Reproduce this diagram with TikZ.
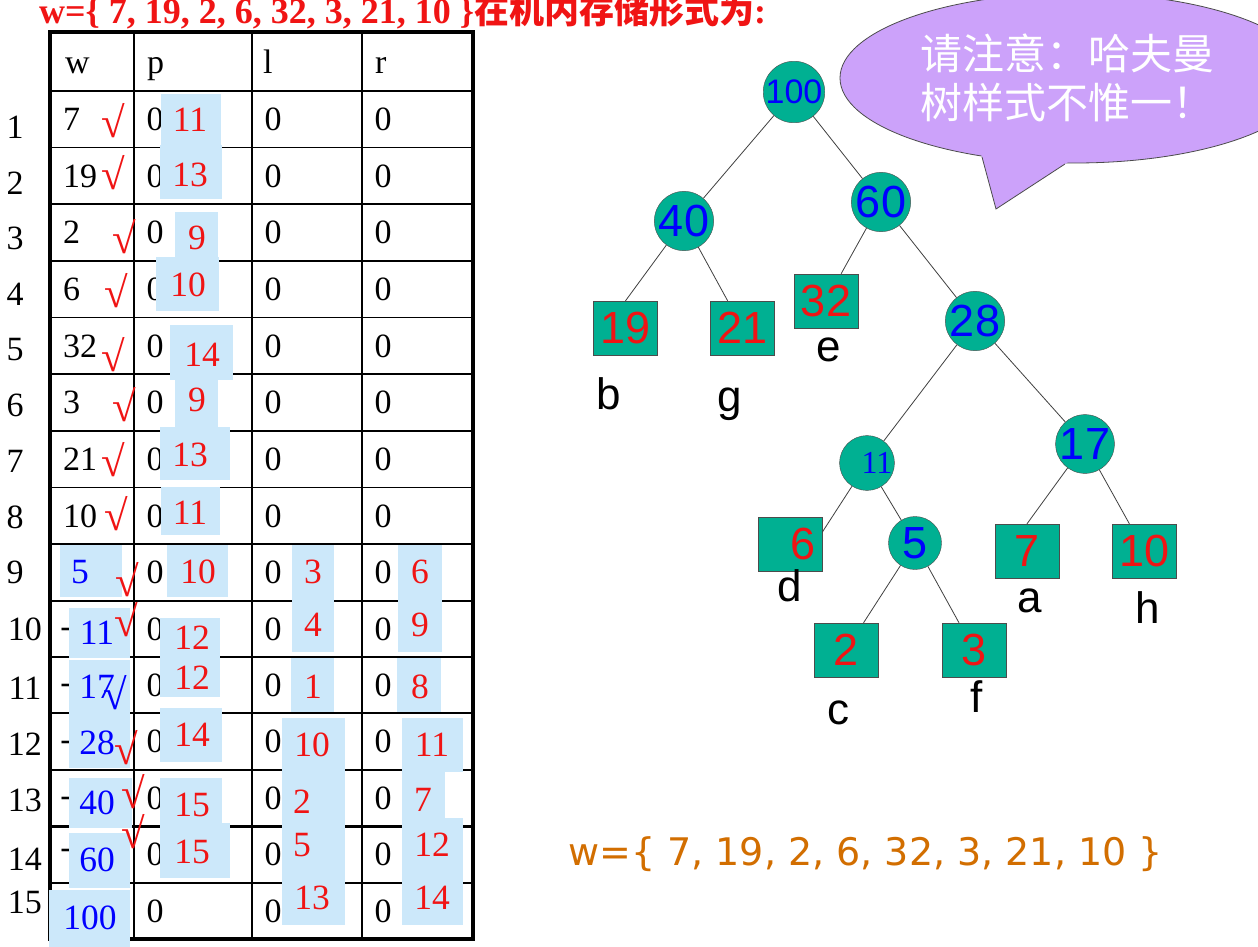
\documentclass[tikz,border=0pt]{standalone}
\usepackage{fontspec}
\setmainfont{Liberation Serif}
\newfontfamily\sans{Liberation Sans}
\newfontfamily\vsans{DejaVu Sans}
\newfontfamily\cjk{Noto Sans CJK SC}
\definecolor{numred}{RGB}{240,20,20}
\definecolor{numblue}{RGB}{0,0,255}
\definecolor{hlblue}{RGB}{204,232,250}
\definecolor{nodeteal}{RGB}{0,176,146}
\definecolor{lilac}{RGB}{204,162,250}
\definecolor{setorange}{RGB}{210,110,0}
\newcommand{\tabsize}{\fontsize{34}{36}\selectfont}
\newcommand{\marksize}{\fontsize{35.5}{38}\selectfont}

\begin{document}
\begin{tikzpicture}[x=1pt,y=-1pt,
  tabline/.style={line width=1.7pt},
  tabframe/.style={line width=3.4pt},
  cell/.style={font=\tabsize,inner sep=0pt},
  hl/.style={fill=hlblue},
  redn/.style={inner sep=0pt,font=\marksize,text=numred},
  bluen/.style={inner sep=0pt,font=\marksize,text=numblue},
  tick/.style={inner sep=0pt,font=\fontsize{43}{46}\selectfont,text=numred},
  inode/.style={circle,draw=black!70,fill=nodeteal,minimum size=53pt,inner sep=0pt,text=numblue,font=\sans\fontsize{45}{48}\selectfont},
  leaf/.style={rectangle,draw=black!70,fill=nodeteal,minimum width=64pt,minimum height=54pt,inner sep=0pt,text=numred,font=\sans\fontsize{45}{48}\selectfont},
  letter/.style={inner sep=0pt,font=\sans\fontsize{44}{48}\selectfont},
  edge/.style={line width=0.8pt,draw=black!75}]

\fill[white] (0,0) rectangle (1258,947);
\useasboundingbox (0,0) rectangle (1258,947);

\node[anchor=base west,inner sep=0pt,text=numred,font=\bfseries\fontsize{36}{40}\selectfont] (title) at (39,23.5) {w=\{ 7, 19, 2, 6, 32, 3, 21, 10 \}{\cjk\bfseries\fontsize{35}{40}\selectfont 在机内存储形式为}:};

% table
\foreach \y in {91,147.5,204,261,317.5,374,431,487.5,544,601,657,713,770,883}
  \draw[tabline] (50,\y) -- (473,\y);
\draw[line width=3pt] (50,826) -- (473,826);
\foreach \x in {134,252,362}
  \draw[tabline] (\x,32) -- (\x,939);
\draw[tabframe] (50,32) rectangle (473,939);

\node[cell,anchor=base west] (hw) at (65,74) {w};
\node[cell,anchor=base west] (hp) at (147,74) {p};
\node[cell,anchor=base west] (hdl) at (263,74) {l};
\node[cell,anchor=base west] (hr) at (375,74) {r};

\foreach \n/\x/\y in {1/15/127,2/15/183,3/15/238,4/15/294,5/15/350,6/15/405,7/15/461,8/15/517,9/15/572,10/25/629,11/25/688,12/25/744,13/25/800,14/25/859,15/25/902}
  \node[cell] (row\n) at (\x,\y) {\n};

\foreach \y [count=\i] in {119,176,232.5,289,346,402.5,459,516,572.5,629,685,741.5,798,854.5,911} {
  \node[cell] (p\i) at (155,\y) {0};
  \node[cell] (l\i) at (273,\y) {0};
  \node[cell] (r\i) at (383,\y) {0};
}
\foreach \v/\y [count=\i] in {7/119,19/176,2/232.5,6/289,32/346,3/402.5,21/459,10/516}
  \node[cell,anchor=west] (w\i) at (63,\y) {\v};
\foreach \y [count=\i from 10] in {633,689,746,802,854}
  \node[cell] (dash\i) at (66,\y) {-};

% marked cells
\fill[hl] (161,94) rectangle (221,147);
\fill[hl] (160,145) rectangle (222,199);
\fill[hl] (175,212) rectangle (218,257);
\fill[hl] (156,257) rectangle (219,311);
\fill[hl] (170,325) rectangle (233,380);
\fill[hl] (175,380) rectangle (218,427);
\fill[hl] (160,427) rectangle (230,480);
\fill[hl] (161,487) rectangle (220,535);
\fill[hl] (167,545) rectangle (228,597);
\fill[hl] (160,618) rectangle (220,697);
\fill[hl] (160,708) rectangle (222,762);
\fill[hl] (160,778) rectangle (222,823);
\fill[hl] (160,823) rectangle (230,878);
\fill[hl] (60,545) rectangle (122,597);
\fill[hl] (69,608) rectangle (130,658);
\fill[hl] (69,660) rectangle (130,768);
\fill[hl] (69,778) rectangle (132,828);
\fill[hl] (69,833) rectangle (130,888);
\fill[hl] (49,890) rectangle (130,947);
\fill[hl] (292,545) rectangle (334,652);
\fill[hl] (291,658) rectangle (334,712);
\fill[hl] (282,718) rectangle (345,925);
\fill[hl] (398,545) rectangle (442,652);
\fill[hl] (397,658) rectangle (441,712);
\fill[hl] (402,718) rectangle (463,772);
\fill[hl] (402,718) rectangle (445,925);
\fill[hl] (402,818) rectangle (463,925);

\foreach \v/\x/\y [count=\i] in {11/190/120,13/190/175,9/197/238,10/188/285,14/202/355,9/197/400,13/190/455,11/190/513,10/198/572,12/192/638,12/192/678,14/192/735,15/192/805,15/192/852}
  \node[redn] (pv\i) at (\x,\y) {\v};
\foreach \v/\x/\y [count=\i] in {3/313/572,4/313/625,1/313/687,10/312/745,2/302/802,5/302/845,13/312/898}
  \node[redn] (lv\i) at (\x,\y) {\v};
\foreach \v/\x/\y [count=\i] in {6/420/572,9/420/625,8/420/687,11/432/745,7/423/800,12/432/845,14/432/898}
  \node[redn] (rv\i) at (\x,\y) {\v};
\foreach \v/\x/\y [count=\i from 9] in {5/80/572,11/97/633,17/97/687,28/97/743,40/97/803,60/97/860,100/90/918}
  \node[bluen] (wv\i) at (\x,\y) {\v};

\foreach \x/\y [count=\i] in {113/121,113/173,124/237,116/291,113/355,124/405,113/460,116/514,127/580,126/620}
  \node[tick] (ck\i) at (\x,\y) {√};
\node[tick,text=numblue] (ck11) at (115,693) {√};
\node[tick] (ck12) at (126,748) {√};
\node[tick] (ck13) at (133,792) {√};
\node[tick] (ck14) at (133,832) {√};

% callout
\draw[fill=lilac,draw=black!70,line width=0.8pt] (1075,78) ellipse [x radius=235pt,y radius=85pt];
\fill[lilac] (980.6,151.8) -- (996,209) -- (1070.5,160.4) -- cycle;
\draw[draw=black!70,line width=0.8pt] (982,157) -- (996,209) -- (1065,164);
\node[anchor=west,align=left,inner sep=0pt,text=white,font=\cjk\fontsize{42}{49}\selectfont] (note) at (920,77.5) {请注意：哈夫曼\\树样式不惟一！};

% tree
\node[inode,font=\sans\fontsize{34}{36}\selectfont] (n100) at (794,92) {100};
\node[inode] (n40) at (684,221) {40};
\node[inode] (n60) at (881,202) {60};
\node[inode] (n28) at (975,321) {28};
\node[inode,font=\fontsize{32}{34}\selectfont] (n11) at (867,463) {\hspace*{20pt}11};
\node[inode] (n17) at (1085,444) {17};
\node[inode] (n5) at (915,543) {5};
\node[leaf] (n19) at (625.5,328) {19};
\node[leaf] (n21) at (742.5,328) {21};
\node[leaf] (n32) at (826,301) {32};
\node[leaf] (n6) at (790,544) {\hspace*{26pt}6};
\node[leaf] (n7) at (1027,551) {7};
\node[leaf] (n10) at (1144.5,551) {10};
\node[leaf] (n2) at (846,650) {2};
\node[leaf] (n3) at (974,650) {3};

\draw[edge] (n100) -- (n40);
\draw[edge] (n100) -- (n60);
\draw[edge] (n40) -- (n19.north);
\draw[edge] (n40) -- (n21);
\draw[edge] (n60) -- (n32);
\draw[edge] (n60) -- (n28);
\draw[edge] (n28) -- (n11);
\draw[edge] (n28) -- (n17);
\draw[edge] (n11) -- (n6.20);
\draw[edge] (n11) -- (n5);
\draw[edge] (n5) -- (n2);
\draw[edge] (n5) -- (n3);
\draw[edge] (n17) -- (n7.north);
\draw[edge] (n17) -- (n10);

\foreach \t/\x/\y in {b/609/394,g/730/404,e/829/350,d/790/586,a/1030/601,h/1148/608,c/838/713,f/977/697}
  \node[letter] (lab\t) at (\x,\y) {\t};

\node[anchor=base west,inner sep=0pt,text=setorange,font=\vsans\fontsize{38}{44}\selectfont] (wset) at (568,865) {w=\{ 7, 19, 2, 6, 32, 3, 21, 10 \}};

\end{tikzpicture}
\end{document}
